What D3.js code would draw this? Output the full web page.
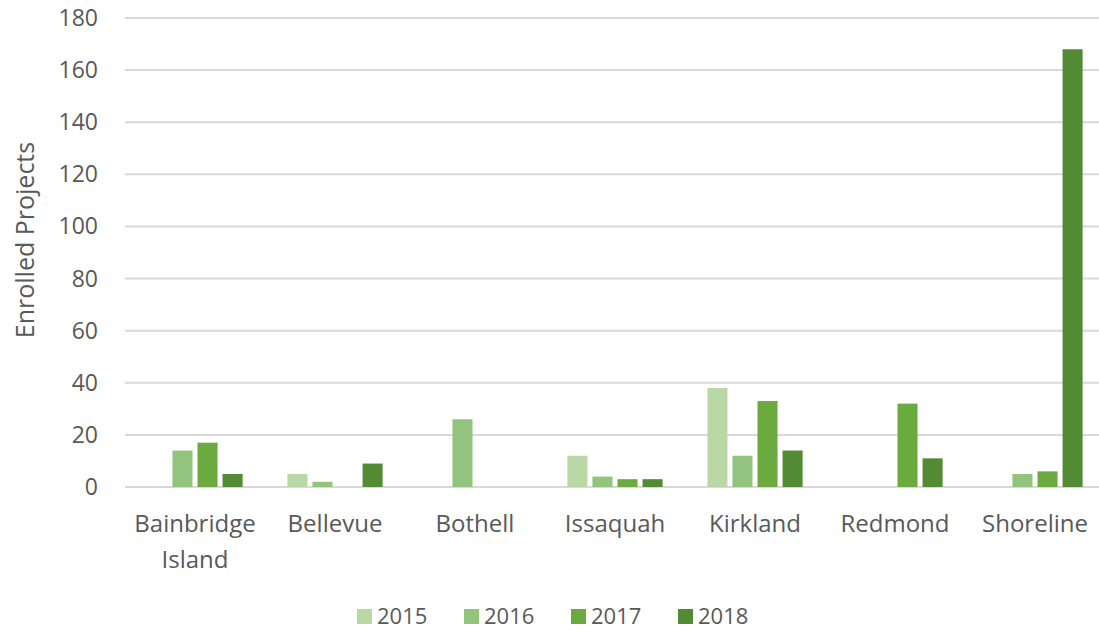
<!DOCTYPE html>
<html>
<head>
<meta charset="utf-8">
<script src="https://cdn.jsdelivr.net/npm/d3@7"></script>
<style>
  body { margin: 0; background: #fff; }
  svg text { font-family: "Open Sans", sans-serif; fill: #595959; }
</style>
</head>
<body>
<svg id="chart" width="1099" height="632"></svg>
<script>
// data
const cities = ["Bainbridge Island", "Bellevue", "Bothell", "Issaquah", "Kirkland", "Redmond", "Shoreline"];
const years = ["2015", "2016", "2017", "2018"];
const v2015 = [0, 5, 0, 12, 38, 0, 0];
const v2016 = [14, 2, 26, 4, 12, 0, 5];
const v2017 = [17, 0, 0, 3, 33, 32, 6];
const v2018 = [5, 9, 0, 3, 14, 11, 168];
const yTicks = [0, 20, 40, 60, 80, 100, 120, 140, 160, 180];
const colors = ["#bad8a6", "#93c47d", "#6aaa3e", "#538a34"];

const series = [v2015, v2016, v2017, v2018];

const svg = d3.select('#chart');

const x = d3.scaleBand()
    .domain(cities)
    .range([125, 1105])
    .paddingInner(0.32)
    .paddingOuter(0.16);

const xIn = d3.scaleBand()
    .domain(years)
    .range([0, x.bandwidth()])
    .paddingInner(0.2);

const y = d3.scaleLinear()
    .domain([0, 180])
    .range([487, 18]);

const color = d3.scaleOrdinal().domain(years).range(colors);

// gridlines
svg.append('g')
    .selectAll('line')
    .data(yTicks)
    .join('line')
    .attr('x1', 125)
    .attr('x2', 1105)
    .attr('y1', d => y(d))
    .attr('y2', d => y(d))
    .attr('stroke', '#d9d9d9')
    .attr('stroke-width', 2);

// y tick labels
svg.append('g')
    .selectAll('text')
    .data(yTicks)
    .join('text')
    .attr('x', 98)
    .attr('y', d => y(d))
    .attr('dy', '0.35em')
    .attr('text-anchor', 'end')
    .style('font-size', '23px')
    .text(d => d);

// y axis title
svg.append('text')
    .attr('transform', 'translate(34,240) rotate(-90)')
    .attr('text-anchor', 'middle')
    .style('font-size', '25px')
    .text('Enrolled Projects');

// bars
const groups = svg.append('g')
    .selectAll('g')
    .data(cities)
    .join('g')
    .attr('transform', d => 'translate(' + x(d) + ',0)');

groups.selectAll('rect')
    .data((d, i) => years.map((yr, j) => ({ year: yr, value: series[j][i] })))
    .join('rect')
    .filter(d => d.value > 0)
    .attr('x', d => xIn(d.year))
    .attr('width', xIn.bandwidth())
    .attr('y', d => y(d.value))
    .attr('height', d => y(0) - y(d.value))
    .attr('fill', d => color(d.year));

// category labels (wrapped on space for two-word names)
const xLabels = svg.append('g')
    .selectAll('text')
    .data(cities)
    .join('text')
    .attr('x', d => x(d) + x.bandwidth() / 2)
    .attr('y', 532)
    .attr('text-anchor', 'middle')
    .style('font-size', '24px');

xLabels.each(function(d) {
    const words = d.split(' ');
    const t = d3.select(this);
    words.forEach((w, k) => {
        t.append('tspan')
            .attr('x', x(d) + x.bandwidth() / 2)
            .attr('dy', k === 0 ? 0 : 36)
            .text(w);
    });
});

// legend
const legend = svg.append('g')
    .selectAll('g')
    .data(years)
    .join('g')
    .attr('transform', (d, i) => 'translate(' + (357 + i * 107) + ',609)');

legend.append('rect')
    .attr('width', 15)
    .attr('height', 15)
    .attr('fill', d => color(d));

legend.append('text')
    .attr('x', 20)
    .attr('y', 7.5)
    .attr('dy', '0.36em')
    .style('font-size', '22px')
    .text(d => d);
</script>
</body>
</html>
